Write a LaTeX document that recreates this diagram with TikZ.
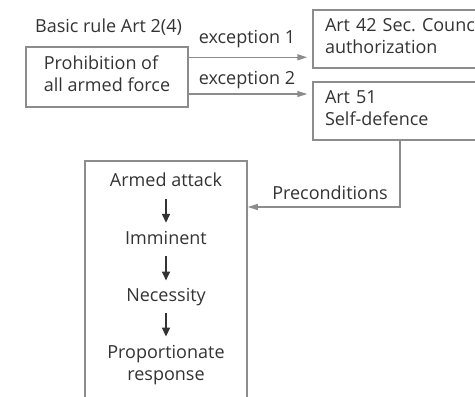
\documentclass[tikz,border=0pt]{standalone}
\usepackage{fontspec}
\setmainfont{Open Sans}
\usetikzlibrary{arrows.meta}
\definecolor{ink}{gray}{0.2}
\definecolor{rule}{gray}{0.55}
\tikzset{
  lbl/.style={text=ink, font=\fontsize{18}{22}\selectfont\frenchspacing, inner sep=0pt, anchor=base},
  stage/.style={lbl, text height=13pt, text depth=4pt},
  box/.style={draw=rule, line width=1.5pt, rectangle, inner sep=0pt, text=ink,
              font=\fontsize{18}{22}\selectfont\frenchspacing},
  link/.style={draw=rule, line width=1.5pt, -{Triangle[length=10pt,width=6pt]}},
  chain/.style={draw=ink, line width=1.6pt, -{Triangle[length=9pt,width=8pt]}},
}
\begin{document}
\begin{tikzpicture}[x=1pt,y=-1pt]
\useasboundingbox (0,0) rectangle (475,397);
\clip (0,0) rectangle (475,397);

% heading of the basic rule
\node[lbl] (rule) at (108.5,32.7) {Basic rule Art 2(4)};

% main boxes
\node[box, minimum width=162pt, minimum height=60pt, align=left] (prohib) at (107,77)
  {Prohibition of\\all armed force\strut};
\node[box, minimum width=220pt, minimum height=58pt, text width=196pt, align=left] (sc) at (423,39.2)
  {Art 42 Sec. Council\\authorization\strut};
\node[box, minimum width=220pt, minimum height=58pt, text width=196pt, align=left] (sd) at (423,111.2)
  {Art 51\\Self-defence\strut};
\node[box, minimum width=162pt, minimum height=270pt] (pc) at (166,296) {};

% the two exceptions
\coordinate (e1) at (0,57.3);
\coordinate (e2) at (0,94);
\draw[link, shorten >=5pt] (prohib.east |- e1) -- (sc.west |- e1);
\draw[link, shorten >=5pt] (prohib.east |- e2) -- (sd.west |- e2);
\node[lbl] (x1) at (247,43.5) {exception 1};
\node[lbl] (x2) at (247,84.3) {exception 2};

% route from self-defence to its preconditions
\coordinate (bend) at (400,207);
\draw[link] (sd.south -| bend) |- (pc.east |- bend);
\node[lbl] (pl) at (330,199) {Preconditions};

% chain of preconditions (a4 is anchored on the baseline of its last line)
\node[stage] (a1) at (166,186) {Armed attack};
\node[stage] (a2) at (166,244) {Imminent};
\node[stage] (a3) at (166,301.7) {Necessity};
\node[lbl, align=center] (a4) at (166,380) {Proportionate\\response};
\draw[chain, shorten <=9pt, shorten >=8pt] (a1) -- (a2);
\draw[chain, shorten <=8pt, shorten >=8pt] (a2) -- (a3);
\draw[chain, shorten <=7pt, shorten >=8pt] (a3) -- (a4);
\end{tikzpicture}
\end{document}
